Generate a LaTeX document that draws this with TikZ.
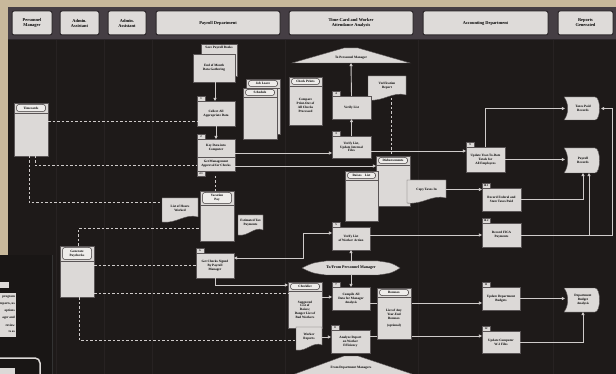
\documentclass[tikz,border=0pt]{standalone}
\usepackage{fontspec}
\setmainfont{Liberation Serif}
\usetikzlibrary{arrows.meta}
\definecolor{bgdark}{HTML}{1E1A19}
\definecolor{bgdarkb}{HTML}{191615}
\definecolor{beige}{HTML}{C8B89B}
\definecolor{boxfill}{HTML}{DCD9D7}
\definecolor{boxdraw}{HTML}{5A5556}
\definecolor{linecol}{HTML}{CFCBCA}
\definecolor{hfill}{HTML}{DEDBD9}
\definecolor{hdraw}{HTML}{2B2629}
\definecolor{hband}{HTML}{453E44}
\definecolor{pillfill}{HTML}{EEECEA}
\definecolor{pilldraw}{HTML}{3A3536}
\definecolor{lanel}{HTML}{272222}
\newcommand\BXfont{\fontsize{3.3}{3.8}\selectfont\bfseries}
\newcommand\TBfont{\fontsize{2.8}{3}\selectfont\bfseries}
\newcommand\HDfont{\fontsize{4.4}{5}\selectfont\bfseries}
\tikzset{
 pbox/.style={draw=boxdraw, fill=boxfill, line width=0.4pt, align=center, font=\BXfont, inner sep=0.5pt, outer sep=0pt},
 tabbox/.style={draw=boxdraw, fill=boxfill, line width=0.4pt, font=\TBfont, inner sep=0.4pt, minimum width=8pt, minimum height=5pt, outer sep=0pt},
 ghost/.style={inner sep=0.5pt, align=center, font=\BXfont, outer sep=0pt},
 docf/.style={fill=boxfill, draw=boxdraw, line width=0.4pt},
 fileline/.style={draw=boxdraw, line width=0.4pt},
 pill/.style={draw=pilldraw, fill=pillfill, rounded corners=2.5pt, line width=0.5pt, font=\BXfont, align=center, inner sep=0.3pt, outer sep=0pt},
 btext/.style={align=center, font=\BXfont, inner sep=0.5pt},
 conn/.style={draw=linecol, line width=0.9pt, -{Triangle[length=3.2pt,width=3.2pt]}},
 conntwo/.style={draw=linecol, line width=0.9pt, {Triangle[length=3.2pt,width=3.2pt]}-{Triangle[length=3.2pt,width=3.2pt]}},
 dconn/.style={draw=linecol, line width=1pt, dash pattern=on 2.5pt off 2pt},
 banner/.style={fill=boxfill, draw=boxdraw, line width=0.4pt},
 hbox/.style={draw=hdraw, fill=hfill, rounded corners=2pt, line width=1pt, align=center, font=\HDfont, inner sep=0pt, outer sep=0pt},
}
% process box: name x1 y1 x2 y2 tab text
\newcommand\PB[7]{%
 \node[pbox, minimum width={#4pt-#2pt}, minimum height={#5pt-#3pt}] (#1) at ({(#2+#4)/2},{(#3+#5)/2}) {#7};
 \node[tabbox, anchor=south west] (#1t) at (#1.north west) {#6};}
% document: name x1 y1 x2 y2 text
\newcommand\DOC[6]{%
 \path[docf] (#2,#3) -- (#4,#3) -- (#4,#5-5) .. controls ({#4-(#4-#2)*0.35},#5-9) and ({#2+(#4-#2)*0.4},#5+2) .. (#2,#5) -- cycle;
 \node[ghost, minimum width={#4pt-#2pt}, minimum height={#5pt-#3pt}] (#1) at ({(#2+#4)/2},{(#3+#5)/2-2}) {#6};}
% stored data: name x1 y1 x2 y2 text
\newcommand\SD[6]{%
 \path[docf] (#2,#3) -- (#4-5,#3) .. controls (#4+1,#3) and (#4+1,#5) .. (#4-5,#5) -- (#2,#5) .. controls (#2+5,#5-6) and (#2+5,#3+6) .. (#2,#3) -- cycle;
 \node[ghost, minimum width={#4pt-#2pt}, minimum height={#5pt-#3pt}] (#1) at ({(#2+#4)/2+1},{(#3+#5)/2}) {#6};}
% file card: name x1 y1 x2 y2 headerheight label body
\newcommand\FILE[8]{%
 \path[docf] (#2,#3) rectangle (#4,#5);
 \draw[fileline] (#2,#3+#6+3) -- (#4,#3+#6+3);
 \node[pill, minimum width={#4pt-#2pt-5pt}, minimum height={#6pt}] (#1p) at ({(#2+#4)/2},{#3+1.5+#6/2}) {#7};
 \node[ghost, minimum width={#4pt-#2pt}, minimum height={#5pt-#3pt}] (#1) at ({(#2+#4)/2},{(#3+#5)/2}) {};
 \node[btext] (#1b) at ({(#2+#4)/2},{(#3+#6+3+#5)/2}) {#8};}

\begin{document}
\begin{tikzpicture}[x=1pt,y=-1pt]
\useasboundingbox (0,0) rectangle (616,374);
% backgrounds
\fill[beige] (0,0) rectangle (616,374);
\fill[bgdark] (8,7) rectangle (616,374);
\fill[bgdarkb] (0,255) rectangle (52,374);
\draw[black!80, line width=0.8pt] (52,255) -- (52,374);
\fill[hband] (8,7) rectangle (616,40);
\draw[hdraw, line width=1pt] (8,40) -- (616,40);
\foreach \lx in {56,104,152,285,418,553} \draw[lanel, line width=0.6pt] (\lx,40) -- (\lx,374);

% headers
\node[hbox, minimum width=40pt, minimum height=24pt] (hpm) at (32,23) {Personnel\\Manager};
\node[hbox, minimum width=39pt, minimum height=24pt] (haa) at (79.5,23) {Admin.\\Assistant};
\node[hbox, minimum width=38pt, minimum height=24pt] (hab) at (127,23) {Admin.\\Assistant};
\node[hbox, minimum width=124pt, minimum height=24pt] (hpd) at (218,23) {Payroll Department};
\node[hbox, minimum width=124pt, minimum height=24pt] (htc) at (351,23) {Time-Card and Worker\\Attendance Analysis};
\node[hbox, minimum width=125pt, minimum height=24pt] (had) at (485.5,23) {Accounting Department};
\node[hbox, minimum width=55pt, minimum height=24pt] (hrg) at (585.5,23) {Reports\\Generated};

% lower-left partial panel
\fill[boxfill] (0,282) rectangle (9,288);
\fill[boxfill] (0,293) rectangle (16,337);
\begin{scope}
\clip (0,293) rectangle (16,337);
\node[btext, anchor=east] (ll1) at (15.5,297) {program};
\node[btext, anchor=east] (ll2) at (15.5,304) {reports, us};
\node[btext, anchor=east] (ll3) at (15.5,311) {options};
\node[btext, anchor=east] (ll4) at (15.5,318) {ager and};
\node[btext, anchor=east] (ll5) at (15.5,325) {review};
\node[btext, anchor=east] (ll6) at (15.5,332) {ts as};
\end{scope}
\draw[boxfill, line width=1.5pt, rounded corners=5pt] (-2,358) -- (40,358) -- (40,376);
\fill[boxfill] (0,368) rectangle (15,374);

% Personnel manager lane
\FILE{tc}{14}{103}{48}{156}{7}{Timecards}{}
% Admin assistant lane
\FILE{gp}{60}{246}{94}{297}{12}{Generate\\Paychecks}{}

% Payroll department
\path[docf] (201,44) rectangle (237,76);
\node[btext] (spb) at (219,48) {Save Payroll Books};
\node[pbox, minimum width=42pt, minimum height=28pt] (eom) at (214,68) {End of Month\\Data Gathering};
\PB{b1}{197}{101}{235}{126}{1}{Collect All\\Appropriate Data}
\PB{b2}{197}{139}{235}{157}{2}{Key Data into\\Computer}
\node[pbox, minimum width=38pt, minimum height=14pt] (b2m) at (216,164) {Get Management\\Approval for Checks};
\node[tabbox, anchor=north west] (b2mt) at (b2m.south west) {2.1};
\FILE{jl}{246}{79}{280}{134}{6}{Job Leave}{}
\FILE{sch}{243}{88}{277}{139}{6}{Schedule}{}
\DOC{hours}{162}{198}{198}{222}{List of Hours\\Worked}
\FILE{vac}{200}{191}{234}{241}{11}{Vacation\\Pay}{}
\DOC{etp}{238}{215}{263}{235}{Estimated Tax\\Payments}
\PB{b6}{196}{253}{234}{278}{6}{Get Checks Signed\\By Payroll\\Manager}

% Time-card lane
\path[banner] (292,63) -- (344,48) -- (358,48) -- (410,63) -- cycle;
\node[ghost, minimum width=100pt, minimum height=11pt] (topm) at (351,57.5) {To Personnel Manager};
\FILE{cp}{289}{77}{322}{125}{6}{Check Prints}{Compare\\Print-Out of\\All Checks\\Processed}
\DOC{vr}{368}{76}{406}{100}{Verification\\Report}
\PB{b4}{332}{96}{371}{119}{4}{Verify List}
\PB{b3}{332}{136}{371}{158}{3}{Verify List,\\Update Internal\\Files}
\FILE{disb}{376}{156}{410}{206}{6}{Disbursements}{}
\FILE{rl}{345}{171}{378}{221}{6}{Raises\quad List}{}
\DOC{copy}{407}{180}{446}{203}{Copy Taxes In}
\PB{b5}{332}{227}{370}{250}{5}{Verify List\\of Worker Action}
\path[banner] (302,268) .. controls (312,263) .. (326,261) -- (378,261) .. controls (392,263) .. (400,268) .. controls (392,273) .. (378,275) -- (326,275) .. controls (312,273) .. (302,268) -- cycle;
\node[ghost, minimum width=90pt, minimum height=14pt] (tof) at (351,268) {\fontsize{4}{4.5}\selectfont To/From Personnel Manager};
\FILE{chk}{288}{282}{322}{328}{6}{Checklist}{Suggested\\List of\\Raises;\\Danger List of\\Bad Workers}
\DOC{wr}{296}{327}{322}{350}{Worker\\Reports}
\PB{b7}{332}{287}{370}{310}{7}{Compile All\\Data for Manager\\Analysis}
\PB{b8}{331}{330}{370}{353}{8}{Analyze Report\\on Worker\\Efficiency}
\path[banner] (292,375) -- (344,356) -- (358,356) -- (415,375) -- cycle;
\node[ghost, minimum width=100pt, minimum height=8pt] (fdm) at (351,368) {From Department Managers};

% Accounting lane
\PB{b9}{466}{147}{505}{172}{9}{Update Year-To-Date\\Totals for\\All Employees}
\PB{b101}{482}{188}{521}{211}{10.1}{Record Federal and\\State Taxes Paid}
\PB{b102}{482}{223}{521}{247}{10.2}{Record FICA\\Payments}
\PB{b11}{482}{287}{520}{310}{11}{Update Department\\Budgets}
\PB{b12}{482}{331}{520}{353}{12}{Update Computer\\W-2 Files}

% Reports lane
\SD{taxes}{564}{97}{600}{120}{Taxes Paid\\Records}
\SD{pay}{564}{148}{600}{173}{Payroll\\Records}
\SD{dba}{564}{288}{600}{312}{Department\\Budget\\Analysis}

% connectors passing behind Bonuses
\draw[conn] (b7.east |- 0,303) -- (b11.west |- 0,303);
\draw[conn] (b8.east |- 0,336) -- (b12.west |- 0,336);
\FILE{bon}{377}{288}{411}{339}{6}{Bonuses}{List of Any\\Year-End\\Bonuses\\[3pt](optional)}

% dashed connectors
\draw[dconn] (tc.east |- 0,122) -- (b1.west |- 0,122);
\draw[dconn] (tc.south -| 35,0) |- (b2m.west |- 0,166);
\draw[dconn] (tc.south -| 29,0) |- (hours.west |- 0,203);
\draw[dconn] (gp.north -| 78,0) |- (vac.west |- 0,229);
\draw[dconn] (gp.east |- 0,266) -- (b6.west |- 0,266);
\draw[dconn] (gp.east |- 0,293) -- (chk.west |- 0,293);
\draw[dconn] (gp.south -| 79,0) |- (wr.west |- 0,340);
\draw[dconn] (b2mt.south -| 215,0) -- (vac.north -| 215,0);
\draw[dconn] (vr.south -| 391,0) -- (disb.north -| 391,0);

% solid connectors
\draw[conn] (eom.south -| 215,0) -- (b1.north -| 215,0);
\draw[conn] (b1.south) -- (b2.north);
\draw[conn] (b2.east |- 0,153) -- (b3.west |- 0,153);
\draw[conn] (b2m.east |- 0,166) -- (disb.west |- 0,166);
\draw[conn] (b3.north) -- (b4.south);
\draw[conn] (b4.north) -- (topm.south);
\draw[conn] (b3.east |- 0,151) -- (b9.west |- 0,151);
\draw[conn] (b9.north) |- (taxes.west);
\draw[conn] (b9.east) -- (b9.east -| pay.west);
\draw[conn] (copy.east) -- (copy.east -| b101.west);
\draw[conn] (b101.east) -| (pay.south);
\coordinate (rj) at (612,235);
\draw[conn] (b102.east |- 0,235) -- (rj) |- (taxes.east);
\coordinate (br) at (589,235);
\draw[conn] (br) -- (br |- pay.south);
\draw[conn] (b5.east |- 0,235) -- (b102.west |- 0,235);
\coordinate (k1) at (303,258);
\draw[conntwo] (b5.west |- 0,233) -| (k1) -- (b6.east |- k1);
\draw[conn] (tof.north) -- (b5.south);
\draw[conn] (tof.south) -- (b7.north);
\draw[conn] (b6.south) |- (chk.west |- 0,285);
\draw[conn] (chk.east |- 0,297) -- (b7.west |- 0,297);
\draw[conn] (wr.east |- 0,337) -- (b8.west |- 0,337);
\draw[conn] (b11.east) -- (b11.east -| dba.west);
\draw[conn] (b12.east) -| (dba.south);
\end{tikzpicture}
\end{document}
